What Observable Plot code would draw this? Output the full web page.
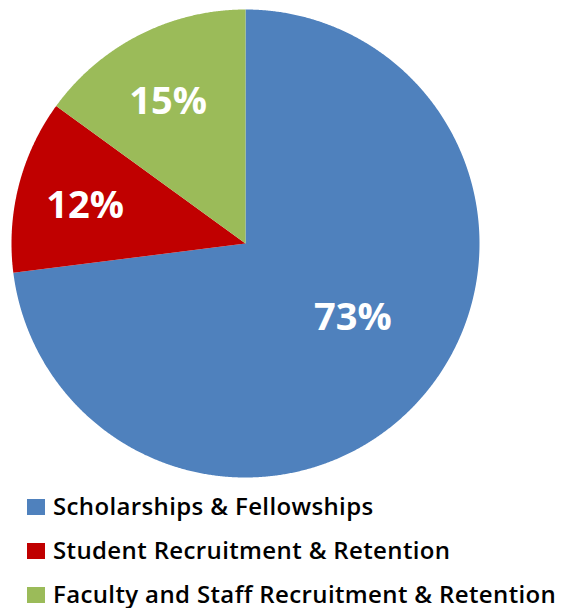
<!DOCTYPE html>
<html><head><meta charset="utf-8">
<script src="https://cdn.jsdelivr.net/npm/d3@7"></script>
<script src="https://cdn.jsdelivr.net/npm/@observablehq/plot@0.6"></script>
<style>
body{margin:0;background:#fff;}
#wrap{width:561px;height:608px;overflow:hidden;}
#wrap svg{display:block;}
</style>
</head><body><div id="wrap"></div>
<script>
const categories = ["Scholarships & Fellowships", "Student Recruitment & Retention", "Faculty and Staff Recruitment & Retention"];
const shares = [73, 12, 15];
const shareLabels = ["73%", "12%", "15%"];
const colors = ["#4F81BD", "#C00000", "#9BBB59"];

const arcs = d3.pie().sort(null).value(d => d)(shares);
const slicePoints = [];
arcs.forEach((a, i) => {
  const cat = categories[i];
  slicePoints.push({cat, x: 0, y: 0});
  const n = Math.max(2, Math.ceil((a.endAngle - a.startAngle) / 0.005));
  for (let k = 0; k <= n; k++) {
    const t = a.startAngle + (a.endAngle - a.startAngle) * k / n;
    slicePoints.push({cat, x: Math.sin(t), y: Math.cos(t)});
  }
});
const labelData = arcs.map((a, i) => {
  const m = (a.startAngle + a.endAngle) / 2;
  const r = shares[i] > 50 ? 0.56 : 0.69;
  return {cat: categories[i], text: shareLabels[i], big: shares[i] > 50, x: r * Math.sin(m), y: r * Math.cos(m)};
});

const chart = Plot.plot({
  width: 561,
  height: 486,
  marginLeft: 11,
  marginRight: 82,
  marginTop: 9,
  marginBottom: 9,
  x: {domain: [-1, 1], axis: null},
  y: {domain: [-1, 1], axis: null},
  color: {domain: categories, range: colors},
  marks: [
    Plot.line(slicePoints, {x: "x", y: "y", z: "cat", fill: "cat", stroke: null}),
    Plot.text(labelData.filter(d => !d.big), {x: "x", y: "y", text: "text", dx: -4, dy: 2, fill: "white", fontSize: 38, fontWeight: "bold", fontFamily: "'Open Sans', sans-serif"}),
    Plot.text(labelData.filter(d => d.big), {x: "x", y: "y", text: "text", dx: 9, dy: -12, fill: "white", fontSize: 38, fontWeight: "bold", fontFamily: "'Open Sans', sans-serif"})
  ]
});
const wrap = document.getElementById("wrap");
wrap.appendChild(chart);

// legend below the plot
const NS = "http://www.w3.org/2000/svg";
const leg = document.createElementNS(NS, "svg");
leg.setAttribute("width", 561);
leg.setAttribute("height", 122);
wrap.appendChild(leg);
const texts = [];
categories.forEach((c, i) => {
  const top = 13 + 44 * i; // relative to legend top (486)
  const r = document.createElementNS(NS, "rect");
  r.setAttribute("x", 27); r.setAttribute("y", top);
  r.setAttribute("width", 18); r.setAttribute("height", 16);
  r.setAttribute("fill", colors[i]);
  leg.appendChild(r);
  const t = document.createElementNS(NS, "text");
  t.setAttribute("x", 53); t.setAttribute("y", top + 15.5);
  t.setAttribute("font-family", "'Open Sans', sans-serif");
  t.setAttribute("font-weight", 600);
  t.setAttribute("font-size", 24);
  t.setAttribute("fill", "#000");
  t.textContent = c;
  leg.appendChild(t);
  texts.push(t);
});
// fit the longest label to the reference span with a little letter spacing
const len = texts[2].getComputedTextLength();
const ls = Math.max(-0.5, Math.min(1, (503 - len) / (categories[2].length - 1)));
texts.forEach(t => t.setAttribute("letter-spacing", ls.toFixed(2)));
</script>
</body></html>
